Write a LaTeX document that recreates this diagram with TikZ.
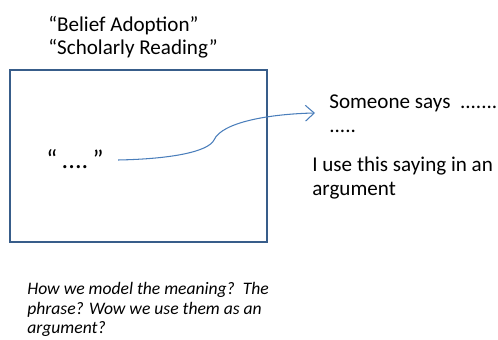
\documentclass[tikz,border=0pt]{standalone}
\usepackage{fontspec}
\setmainfont{Carlito}
\usepackage{tikz}
\usetikzlibrary{arrows.meta,positioning,calc}
\definecolor{frameblue}{RGB}{56,93,138}
\definecolor{arrowblue}{RGB}{74,126,187}

\begin{document}
\begin{tikzpicture}[x=0.02cm, y=-0.02cm,
    label/.style={anchor=base west, inner sep=0pt, align=left},
    titletext/.style={label, font=\fontsize{12}{13.6pt}\selectfont},
    sidetext/.style={label, font=\fontsize{12}{14.2pt}\selectfont},
    notetext/.style={label, font=\fontsize{10}{11.3pt}\selectfont\itshape}
]
\useasboundingbox (0,0) rectangle (498,340);

% TITLE
\node[titletext] (title) at (48,55) {``Belief Adoption''\\``Scholarly Reading''};

% FRAME
\draw[frameblue, line width=1.1pt] (10,70) rectangle (267,242);
\node[label, font=\fontsize{15}{18}\selectfont] (quote) at (46,169) {``\,....\,''};

% SAYINGS
\node[sidetext] (says) at (329,133) {Someone says~~.......\\.....};
\node[sidetext] (use) at (312,196) {I use this saying in an\\argument};
\coordinate (tip) at (315,113);

% ARROW
\draw[arrowblue, line width=0.6pt, -{Straight Barb[length=5pt,width=9pt]}]
    ($(quote.base east)+(14,-9)$) .. controls (170,159) and (208,152) .. (214,140)
    .. controls (222,122) and (270,114) .. (tip);

% NOTE
\node[notetext] (note) at (27,334) {How we model the meaning?~~The\\phrase? Wow we use them as an\\argument?};

\end{tikzpicture}
\end{document}
